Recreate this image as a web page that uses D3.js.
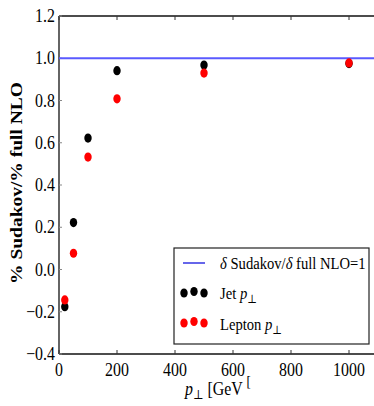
<!DOCTYPE html>
<html>
<head>
<meta charset="utf-8">
<script src="https://cdn.jsdelivr.net/npm/d3@7"></script>
<style>
  body { margin: 0; background: #fff; }
</style>
</head>
<body>
<svg id="chart" width="374" height="406"></svg>
<script>
// values
const ptValues = [20, 50, 100, 200, 500, 1000];
const jetRatio = [-0.176, 0.222, 0.622, 0.941, 0.968, 0.975];
const leptonRatio = [-0.144, 0.077, 0.532, 0.808, 0.930, 0.978];
const xTicks = [0, 200, 400, 600, 800, 1000];
const yTicks = [-0.4, -0.2, 0.0, 0.2, 0.4, 0.6, 0.8, 1.0, 1.2];
const referenceLevel = 1.0;

const squish = 0.86; // text in the picture is horizontally compressed

const svg = d3.select('#chart')
  .attr('font-family', "'Liberation Serif', 'Times New Roman', 'DejaVu Serif', serif")
  .attr('fill', '#000');

const x = d3.scaleLinear().domain([0, 1100]).range([59, 378]);
const y = d3.scaleLinear().domain([-0.4, 1.2]).range([354, 16]);

// frame
svg.append('line')
  .attr('x1', x(0)).attr('x2', x(0)).attr('y1', y(1.2)).attr('y2', y(-0.4))
  .attr('stroke', '#111').attr('stroke-width', 1.3);
svg.append('line')
  .attr('x1', x(0)).attr('x2', 374).attr('y1', y(1.2)).attr('y2', y(1.2))
  .attr('stroke', '#111').attr('stroke-width', 1.3);
svg.append('line')
  .attr('x1', x(0)).attr('x2', 374).attr('y1', y(-0.4)).attr('y2', y(-0.4))
  .attr('stroke', '#111').attr('stroke-width', 1.3);

// ticks (inward)
svg.append('g').selectAll('line.bt').data(xTicks).enter().append('line')
  .attr('x1', d => x(d)).attr('x2', d => x(d))
  .attr('y1', y(-0.4)).attr('y2', y(-0.4) - 4)
  .attr('stroke', '#333');
svg.append('g').selectAll('line.tt').data(xTicks).enter().append('line')
  .attr('x1', d => x(d)).attr('x2', d => x(d))
  .attr('y1', y(1.2)).attr('y2', y(1.2) + 4)
  .attr('stroke', '#333');
svg.append('g').selectAll('line.lt').data(yTicks).enter().append('line')
  .attr('x1', x(0)).attr('x2', x(0) + 3)
  .attr('y1', d => y(d)).attr('y2', d => y(d))
  .attr('stroke', '#888');

// tick labels
const fmt = d3.format('.1f');
svg.append('g').selectAll('text').data(yTicks).enter().append('text')
  .attr('transform', d => `translate(55,${y(d) + 6}) scale(${squish},1)`)
  .attr('text-anchor', 'end')
  .attr('font-size', 18.5)
  .text(d => fmt(d).replace('-', '\u2212'));

svg.append('g').selectAll('text').data(xTicks).enter().append('text')
  .attr('transform', d => `translate(${x(d)},${y(-0.4) + 22}) scale(${squish},1)`)
  .attr('text-anchor', 'middle')
  .attr('font-size', 18.5)
  .text(d => d);

// axis titles
svg.append('text')
  .attr('transform', `translate(22,183) rotate(-90) scale(1,${squish})`)
  .attr('text-anchor', 'middle')
  .attr('font-size', 19.5)
  .attr('font-weight', 'bold')
  .text('% Sudakov/% full NLO');

const xl = svg.append('text')
  .attr('transform', `translate(185,395) scale(${squish},1)`)
  .attr('font-size', 18.5);
xl.append('tspan').attr('font-style', 'italic').text('p');
xl.append('tspan').attr('font-size', 13).attr('dy', 4).text('\u22A5');
xl.append('tspan').attr('dy', -4).text(' [GeV ');
xl.append('tspan').attr('dy', -9).attr('font-size', 15).text('[');

// reference line
svg.append('line')
  .attr('x1', x(0)).attr('x2', 374)
  .attr('y1', y(referenceLevel)).attr('y2', y(referenceLevel))
  .attr('stroke', '#5a5aff').attr('stroke-width', 2);

// points
const jet = ptValues.map((p, i) => ({ p, v: jetRatio[i] }));
const lepton = ptValues.map((p, i) => ({ p, v: leptonRatio[i] }));

svg.append('g').selectAll('ellipse').data(jet).enter().append('ellipse')
  .attr('cx', d => x(d.p)).attr('cy', d => y(d.v))
  .attr('rx', 3.7).attr('ry', 4.6)
  .attr('fill', 'black');
svg.append('g').selectAll('ellipse').data(lepton).enter().append('ellipse')
  .attr('cx', d => x(d.p)).attr('cy', d => y(d.v))
  .attr('rx', 3.7).attr('ry', 4.6)
  .attr('fill', 'red');

// legend
const lg = svg.append('g');
lg.append('rect')
  .attr('x', 174).attr('y', 248).attr('width', 195).attr('height', 96)
  .attr('fill', 'white').attr('stroke', '#222').attr('stroke-width', 1.2);
lg.append('line')
  .attr('x1', 183).attr('x2', 205).attr('y1', 263).attr('y2', 263)
  .attr('stroke', '#0000dd').attr('stroke-width', 1.2);

const addLabel = (yy, parts) => {
  const t = lg.append('text')
    .attr('transform', `translate(220,${yy}) scale(${squish},1)`)
    .attr('font-size', 17);
  parts.forEach(p => {
    const s = t.append('tspan').text(p.t);
    if (p.i) s.attr('font-style', 'italic');
    if (p.sub) s.attr('font-size', 12).attr('dy', 4);
  });
};
addLabel(269, [{ t: '\u03B4', i: true }, { t: ' Sudakov/' }, { t: '\u03B4', i: true }, { t: ' full NLO=1' }]);
addLabel(299, [{ t: 'Jet ' }, { t: 'p', i: true }, { t: '\u22A5', sub: true }]);
addLabel(330, [{ t: 'Lepton ' }, { t: 'p', i: true }, { t: '\u22A5', sub: true }]);

const dotDx = [184, 194, 204];
const dotDy = [0, -1.5, 0];
[[293, 'black'], [323, 'red']].forEach(([yy, c]) => {
  lg.append('g').selectAll('ellipse').data(dotDx).enter().append('ellipse')
    .attr('cx', d => d).attr('cy', (d, i) => yy + dotDy[i])
    .attr('rx', 3.7).attr('ry', 4.6)
    .attr('fill', c);
});
</script>
</body>
</html>
